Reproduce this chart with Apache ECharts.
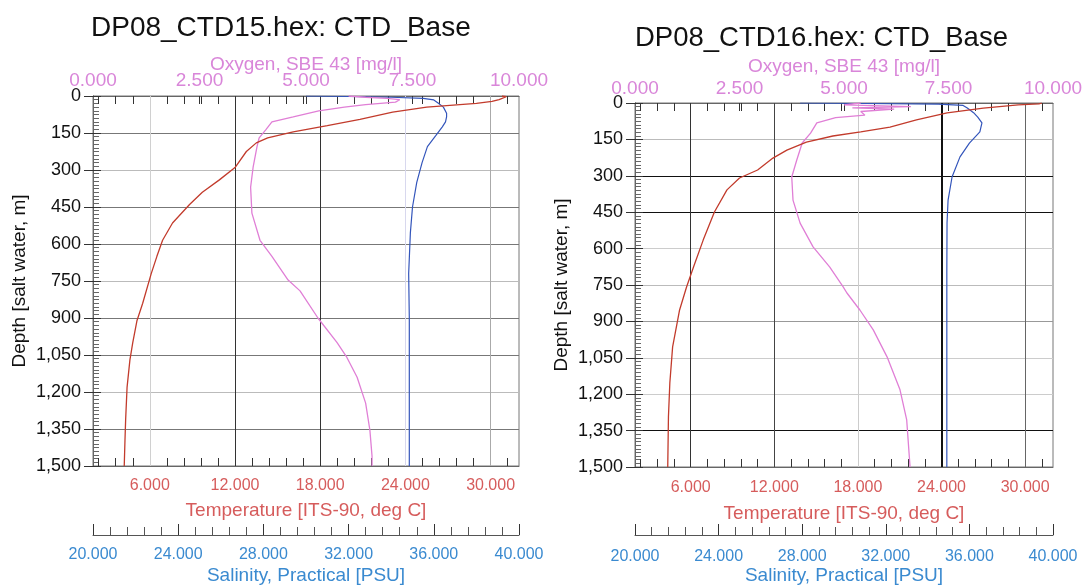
<!DOCTYPE html>
<html><head><meta charset="utf-8">
<script src="https://cdn.jsdelivr.net/npm/echarts@6/dist/echarts.min.js"></script>
<style>html,body{margin:0;padding:0;background:#fff}#c{width:1083px;height:586px}</style>
</head><body><div id="c"></div>
<script>
// ---------- tick labels ----------
const tempLabelTicks = [6, 12, 18, 24, 30];
const tempMinorTicks = [2.4, 3.6, 4.8, 6, 7.2, 8.4, 9.6, 10.8, 12, 13.2, 14.4, 15.6, 16.8, 18, 19.2, 20.4, 21.6, 22.8, 24, 25.2, 26.4, 27.6, 28.8, 30, 31.2];
const oxyMajorTicks = [2.5, 5, 7.5];
const titles = ['DP08_CTD15.hex: CTD_Base', 'DP08_CTD16.hex: CTD_Base'];

// ---------- CTD15 (left) ----------
const ctd15TempDepth = [0, 3, 8, 15, 22, 30, 45, 65, 95, 120, 145, 170, 190, 225, 290, 340, 390, 440, 515, 585, 650, 720, 840, 910, 1000, 1070, 1180, 1310, 1400, 1500];
const ctd15Temp      = [30.8, 31.1, 31.0, 30.6, 30.1, 29.0, 25.5, 23.1, 20.8, 18.5, 16.1, 14.3, 13.5, 12.8, 12.0, 10.9, 9.7, 8.8, 7.6, 6.9, 6.5, 6.1, 5.5, 5.1, 4.8, 4.6, 4.4, 4.3, 4.25, 4.2];
const ctd15OxyDepth  = [0, 5, 10, 15, 25, 35, 45, 60, 85, 105, 138, 170, 205, 287, 370, 475, 585, 650, 746, 790, 900, 1000, 1060, 1140, 1245, 1355, 1460, 1500];
const ctd15Oxy       = [6.0, 6.4, 6.9, 7.2, 7.1, 6.4, 5.9, 5.3, 4.7, 4.2, 4.05, 3.9, 3.85, 3.76, 3.7, 3.73, 3.92, 4.2, 4.58, 4.86, 5.28, 5.73, 5.96, 6.2, 6.4, 6.5, 6.55, 6.55];
const ctd15SalDepth  = [0, 2, 5, 10, 16, 28, 45, 70, 85, 105, 125, 160, 205, 270, 350, 450, 555, 720, 900, 1100, 1300, 1500];
const ctd15Sal       = [30.0, 32.0, 34.0, 35.5, 36.0, 36.2, 36.45, 36.6, 36.6, 36.55, 36.4, 36.1, 35.7, 35.45, 35.2, 35.0, 34.9, 34.82, 34.85, 34.85, 34.85, 34.85];

// ---------- CTD16 (right) ----------
const ctd16TempDepth = [0, 4, 8, 21, 41, 70, 99, 119, 136, 161, 194, 227, 276, 309, 358, 449, 564, 676, 758, 853, 1005, 1154, 1294, 1500];
const ctd16Temp      = [31.2, 31.0, 29.5, 27.0, 24.4, 22.2, 20.3, 18.2, 16.2, 14.3, 12.9, 11.9, 10.8, 9.5, 8.6, 7.7, 6.9, 6.2, 5.7, 5.2, 4.7, 4.5, 4.4, 4.35];
const ctd16OxyDepth  = [0, 8, 15, 20, 25, 35, 50, 60, 82, 124, 165, 235, 305, 400, 495, 593, 676, 758, 783, 853, 935, 1046, 1182, 1306, 1500];
const ctd16Oxy       = [5.4, 5.0, 6.6, 5.2, 6.2, 5.4, 5.5, 4.8, 4.35, 4.2, 4.0, 3.87, 3.75, 3.78, 3.95, 4.26, 4.66, 4.98, 5.07, 5.38, 5.7, 6.03, 6.34, 6.5, 6.58];
const ctd16SalDepth  = [0, 2, 5, 10, 21, 40, 58, 82, 119, 165, 222, 305, 400, 494, 700, 1000, 1300, 1500];
const ctd16Sal       = [27.9, 31.0, 34.5, 35.7, 35.9, 36.2, 36.4, 36.6, 36.5, 36.0, 35.55, 35.17, 34.98, 34.93, 34.92, 34.92, 34.92, 34.92];

const FONT = "'Liberation Sans', Arial, sans-serif";
const OXY_C = '#d986d9', TEMP_C = '#d65c5c', SAL_C = '#3a8ad0';
// the top border carries the temperature tick comb as well (temperature 2..32 spans the same width as oxygen 0..10)
const oxyTickValues = oxyMajorTicks.concat(tempMinorTicks.map(t => (t - 2) / 3));

const panels = [
  { title: titles[0], titleLeft: 86, titleTop: 9, titleSize: 28,
    grid: { left: 93, top: 96, width: 426, height: 370 },
    oxyLabelMargin: 6, oxyNameGap: 22, tempLabelMargin: 12, tempNameGap: 35, salOffset: 69, salLabelMargin: 12, salNameGap: 31,
    depthSplit: ['#555', '#777', '#bbb', '#777', '#777', '#bbb', '#777', '#777', '#bbb', '#777', '#555'],
    tempSplit: ['#d0d0d0', '#333', '#333', '#d8d8ee', '#aaa'],
    tempSplitW: [1, 1, 1, 1, 1],
    temp: [ctd15TempDepth, ctd15Temp], oxy: [ctd15OxyDepth, ctd15Oxy], sal: [ctd15SalDepth, ctd15Sal] },
  { title: titles[1], titleLeft: 630, titleTop: 19, titleSize: 27.5,
    grid: { left: 635, top: 103, width: 418, height: 364 },
    oxyLabelMargin: 5, oxyNameGap: 27, tempLabelMargin: 13, tempNameGap: 37, salOffset: 68, salLabelMargin: 14, salNameGap: 31,
    depthSplit: ['#555', '#bbb', '#111', '#111', '#ccc', '#bbb', '#999', '#ccc', '#ccc', '#111', '#555'],
    tempSplit: ['#333', '#444', '#ccc', '#111', '#666'],
    tempSplitW: [1, 1, 1, 2, 1],
    temp: [ctd16TempDepth, ctd16Temp], oxy: [ctd16OxyDepth, ctd16Oxy], sal: [ctd16SalDepth, ctd16Sal] }
];

const fix3 = v => Number(v).toFixed(3);
const hiddenSplit = () => ({ show: true, lineStyle: { color: 'rgba(0,0,0,0)', width: 0 } });
const grids = [], xAxes = [], yAxes = [], series = [], titleArr = [];
const zip = (d, v) => v.map((x, k) => [x, d[k]]);

panels.forEach((p, i) => {
  grids.push(Object.assign({ show: true, borderColor: '#777', outerBoundsMode: 'none' }, p.grid));
  titleArr.push({ text: p.title, left: p.titleLeft, top: p.titleTop,
    textStyle: { fontFamily: FONT, fontSize: p.titleSize, fontWeight: 'normal', color: '#111' } });
  const xb = xAxes.length, yb = yAxes.length;
  // x0: oxygen (top)
  xAxes.push({ type: 'value', gridIndex: i, position: 'top', min: 0, max: 10, interval: 2.5,
    name: 'Oxygen, SBE 43 [mg/l]', nameLocation: 'middle', nameGap: p.oxyNameGap, nameMoveOverlap: false,
    nameTextStyle: { color: OXY_C, fontSize: 19, fontFamily: FONT },
    axisLine: { show: true, onZero: false, lineStyle: { color: '#666' } },
    axisTick: { show: true, inside: true, length: 8, customValues: oxyTickValues, lineStyle: { color: '#333', width: 1 } },
    axisLabel: { color: OXY_C, fontSize: 19, fontFamily: FONT, margin: p.oxyLabelMargin, formatter: fix3 },
    splitLine: hiddenSplit() });
  // x1: temperature (bottom)
  xAxes.push({ type: 'value', gridIndex: i, position: 'bottom', min: 2, max: 32,
    name: 'Temperature [ITS-90, deg C]', nameLocation: 'middle', nameGap: p.tempNameGap, nameMoveOverlap: false,
    nameTextStyle: { color: TEMP_C, fontSize: 19, fontFamily: FONT },
    axisLine: { show: true, onZero: false, lineStyle: { color: '#666' } },
    axisTick: { show: true, inside: true, length: 8, customValues: tempMinorTicks, lineStyle: { color: '#333', width: 1 } },
    axisLabel: { color: TEMP_C, fontSize: 16, fontFamily: FONT, margin: p.tempLabelMargin, customValues: tempLabelTicks, formatter: fix3 },
    splitLine: hiddenSplit() });
  // x2: salinity
  xAxes.push({ type: 'value', gridIndex: i, position: 'bottom', offset: p.salOffset, min: 20, max: 40, interval: 4,
    name: 'Salinity, Practical [PSU]', nameLocation: 'middle', nameGap: p.salNameGap, nameMoveOverlap: false,
    nameTextStyle: { color: SAL_C, fontSize: 19, fontFamily: FONT },
    axisLine: { show: true, onZero: false, lineStyle: { color: '#555' } },
    axisTick: { show: true, inside: true, length: 11, lineStyle: { color: '#333' } },
    minorTick: { show: true, splitNumber: 5, length: 8, lineStyle: { color: '#555' } },
    axisLabel: { color: SAL_C, fontSize: 16, fontFamily: FONT, margin: p.salLabelMargin, formatter: fix3 },
    splitLine: { show: false } });
  // y0: depth (labels, outward ticks, horizontal grid)
  yAxes.push({ type: 'value', gridIndex: i, position: 'left', inverse: true, min: 0, max: 1500, interval: 150,
    name: 'Depth [salt water, m]', nameLocation: 'middle', nameGap: 64, nameMoveOverlap: false,
    nameTextStyle: { color: '#111', fontSize: 19, fontFamily: FONT },
    axisLine: { show: true, onZero: false, lineStyle: { color: '#666' } },
    axisTick: { show: true, inside: false, length: 9, lineStyle: { color: '#333' } },
    axisLabel: { color: '#111', fontSize: 18, fontFamily: FONT, margin: 12,
      formatter: v => Number(v).toLocaleString('en-US') },
    splitLine: { show: true, lineStyle: { color: p.depthSplit, width: 1 } } });
  // y1: depth (inside minor ticks)
  yAxes.push({ type: 'value', gridIndex: i, position: 'left', inverse: true, min: 0, max: 1500, interval: 150,
    axisLine: { show: true, onZero: false, lineStyle: { color: '#666' } },
    axisLabel: { show: true, formatter: () => '' }, splitLine: hiddenSplit(),
    axisTick: { show: true, inside: true, length: 8, lineStyle: { color: '#333', width: 1 } },
    minorTick: { show: true, splitNumber: 10, length: 6, lineStyle: { color: '#666', width: 1 } } });

  const common = { type: 'line', showSymbol: false, symbol: 'none', animation: false, z: 3 };
  series.push(Object.assign({}, common, { name: 'sal' + i, xAxisIndex: xb + 2, yAxisIndex: yb,
    data: zip(p.sal[0], p.sal[1]), lineStyle: { color: '#3355bb', width: 1.2 } }));
  series.push(Object.assign({}, common, { name: 'oxy' + i, xAxisIndex: xb + 0, yAxisIndex: yb,
    data: zip(p.oxy[0], p.oxy[1]), lineStyle: { color: '#e07fd6', width: 1.3 } }));
  series.push(Object.assign({}, common, { name: 'temp' + i, xAxisIndex: xb + 1, yAxisIndex: yb + 1,
    data: zip(p.temp[0], p.temp[1]), lineStyle: { color: '#c23b2c', width: 1.3 },
    markLine: { silent: true, symbol: ['none', 'none'], animation: false, z: 1,
      label: { show: false }, emphasis: { disabled: true },
      lineStyle: { type: 'solid' },
      data: tempLabelTicks.map((t, k) => ({ xAxis: t,
        lineStyle: { type: 'solid', color: p.tempSplit[k], width: p.tempSplitW[k] } })) } }));
});

const chart = echarts.init(document.getElementById('c'), null, { renderer: 'canvas' });
chart.setOption({
  backgroundColor: '#fff',
  animation: false,
  title: titleArr,
  grid: grids,
  xAxis: xAxes,
  yAxis: yAxes,
  series: series
});
</script>
</body></html>
